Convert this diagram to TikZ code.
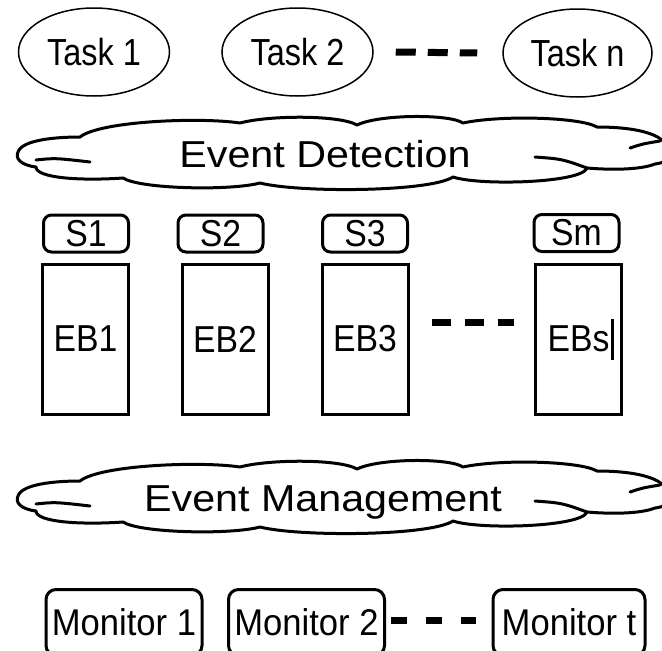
\documentclass[tikz,border=0pt]{standalone}
\usepackage{fontspec}
\setmainfont{Liberation Sans}
\usepackage{graphicx}
\usetikzlibrary{shapes.geometric}
\newcommand{\lbl}[3]{{\fontsize{#1}{#1}\selectfont\scalebox{#2}[1]{#3}}}
\newcommand{\cloudshape}{%
  \draw[cloudline,fill=white] (18,152) .. controls (22,140) and (55,137) .. (80,137)
    .. controls (100,121) and (200,117) .. (240,123)
    .. controls (270,115) and (340,115) .. (357,125)
    .. controls (380,114) and (450,114) .. (463,123)
    .. controls (500,115) and (580,117) .. (597,127)
    .. controls (630,127) and (655,132) .. (664,142)
    .. controls (676,152) and (672,162) .. (655,164)
    .. controls (640,170) and (610,170) .. (587,168)
    .. controls (582,183) and (480,186) .. (453,177)
    .. controls (430,192) and (300,193) .. (260,183)
    .. controls (230,191) and (140,189) .. (123,178)
    .. controls (80,181) and (36,178) .. (36,167)
    .. controls (20,165) and (15,158) .. (18,152) -- cycle;
  \draw[cloudline] (36,160) .. controls (55,158) .. (90,162);
  \draw[cloudline] (535,157) .. controls (562,159) .. (587,168);
  \draw[cloudline] (630,148) .. controls (642,144) .. (660,141);
}
\begin{document}
\begin{tikzpicture}[x=1pt,y=-1pt,
  taskel/.style={ellipse, draw, line width=1.5pt, inner sep=0pt, minimum width=151pt, minimum height=88pt},
  sbox/.style={draw, line width=3pt, rounded corners=8pt, minimum width=85pt, minimum height=37pt, inner sep=0pt},
  ebbox/.style={draw, line width=3pt, minimum width=86pt, minimum height=150pt, inner sep=0pt},
  monbox/.style={draw, line width=3pt, rounded corners=10pt, minimum width=156pt, minimum height=66pt, inner sep=0pt, anchor=north},
  gapdash/.style={line width=7pt, dash pattern=on 20pt off 12pt},
  mondash/.style={line width=7pt, dash pattern=on 16pt off 19pt},
  cloudline/.style={line width=3pt, line join=round, line cap=round},
]
\useasboundingbox (0,0) rectangle (662,651);
\clip (0,0) rectangle (662,651);
% tasks
\node[taskel] (t1) at (94,52) {\lbl{37.7}{0.86}{Task 1}};
\node[taskel] (t2) at (297.5,52) {\lbl{37.7}{0.86}{Task 2}};
\node[taskel, minimum width=149pt] (tn) at (577.5,53) {\lbl{37.7}{0.86}{Task n}};
\draw[gapdash] ([xshift=22pt]t2.east) -- ([xshift=-25pt]tn.west);
% event detection cloud
\cloudshape
\node[anchor=base, inner sep=0pt] (ed) at (325,167) {\lbl{37.5}{1.1}{Event Detection}};
% sensors and event buffers
\node[sbox] (s1) at (86,233.5) {\lbl{37.5}{0.9}{S1}};
\node[sbox] (s2) at (220.5,233.5) {\lbl{37.5}{0.9}{S2}};
\node[sbox] (s3) at (365,233.5) {\lbl{37.5}{0.9}{S3}};
\node[sbox] (sm) at (576.5,233) {\lbl{37.5}{0.9}{Sm}};
\node[ebbox] (eb1) at (85.5,339) {\lbl{37.5}{0.9}{EB1}};
\node[ebbox] (eb2) at (225,339) {\lbl{37.5}{0.9}{EB2}};
\node[ebbox] (eb3) at (365,339) {\lbl{37.5}{0.9}{EB3}};
\node[ebbox] (ebs) at (578.5,339) {\lbl{37.5}{0.9}{EBs}};
\draw[line width=3pt] (612,319) -- (612,360);
\draw[gapdash, dash pattern=on 19pt off 14pt] ([xshift=22pt,yshift=17pt]eb3.east) -- ([xshift=-20pt,yshift=17pt]ebs.west);
% event management cloud
\begin{scope}[shift={(0,344)}]
\cloudshape
\end{scope}
\node[anchor=base, inner sep=0pt] (em) at (323,511) {\lbl{37.5}{1.1}{Event Management}};
% monitors
\node[monbox] (m1) at (124,588) {\lbl{37.2}{0.93}{Monitor 1}};
\node[monbox] (m2) at (306.5,588) {\lbl{37.2}{0.93}{Monitor 2}};
\node[monbox, minimum width=152pt] (mt) at (569,588) {\lbl{37.2}{0.93}{Monitor t}};
\draw[mondash] ([xshift=5pt,yshift=2pt]m2.east) -- ([xshift=-16pt,yshift=2pt]mt.west);
\end{tikzpicture}
\end{document}
